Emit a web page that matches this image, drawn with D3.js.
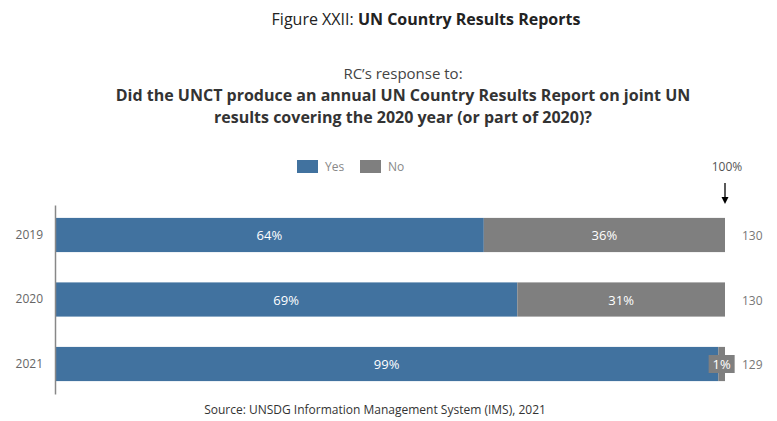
<!DOCTYPE html>
<html>
<head>
  <meta charset="utf-8">
  <title>UN Country Results Reports</title>
  <script src="https://d3js.org/d3.v7.min.js"></script>
  <style>
    html, body { margin: 0; padding: 0; overflow: hidden; background: #fff; font-family: "Open Sans", "DejaVu Sans", sans-serif; }
    svg { display: block; }
  </style>
</head>
<body>
  <div id="chart"></div>
  <script>
    // data
    const years = ["2019", "2020", "2021"];
    const yesPct = [64, 69, 99];
    const noPct = [36, 31, 1];
    const totals = [130, 130, 129];
    const seriesNames = ["Yes", "No"];
    const colors = ["#41729f", "#7f7f7f"];

    const width = 777, height = 421;
    const margin = { top: 205, right: 52, bottom: 27, left: 55 };
    const innerWidth = width - margin.left - margin.right;
    const innerHeight = height - margin.top - margin.bottom;

    const svg = d3.select("#chart").append("svg")
      .attr("width", width)
      .attr("height", height);

    // titles
    const title = svg.append("text")
      .attr("x", 426).attr("y", 25)
      .attr("text-anchor", "middle")
      .style("font-size", "16px").attr("fill", "#222");
    title.append("tspan").text("Figure XXII: ");
    title.append("tspan").attr("font-weight", "bold").text("UN Country Results Reports");

    svg.append("text")
      .attr("x", 403).attr("y", 79)
      .attr("text-anchor", "middle")
      .style("font-size", "15px").attr("fill", "#444")
      .text("RC\u2019s response to:");

    const qLines = [
      "Did the UNCT produce an annual UN Country Results Report on joint UN",
      "results covering the 2020 year (or part of 2020)?"
    ];
    svg.selectAll(".q").data(qLines).enter().append("text")
      .attr("x", 403).attr("y", (d, i) => 101 + i * 22)
      .attr("text-anchor", "middle")
      .style("font-size", "16px").attr("font-weight", "bold").attr("fill", "#333")
      .text(d => d);

    const g = svg.append("g").attr("transform", `translate(${margin.left},${margin.top})`);

    const x = d3.scaleLinear().domain([0, 100]).range([0, innerWidth]);
    const y = d3.scaleBand().domain(years).range([0, innerHeight])
      .paddingInner(0.47).paddingOuter(0.2);

    const rows = years.map((yr, i) => ({ year: yr, Yes: yesPct[i], No: noPct[i], total: totals[i] }));
    const stacked = d3.stack().keys(seriesNames)(rows);

    const layers = g.selectAll(".layer").data(stacked).enter().append("g")
      .attr("fill", (d, i) => colors[i]);

    layers.selectAll("rect").data(d => d).enter().append("rect")
      .attr("x", d => x(d[0]))
      .attr("y", d => y(d.data.year))
      .attr("width", d => x(d[1]) - x(d[0]))
      .attr("height", y.bandwidth());

    // value labels
    stacked.forEach((layer, li) => {
      layer.forEach(d => {
        const v = d[1] - d[0];
        const cx = x((d[0] + d[1]) / 2);
        const cy = y(d.data.year) + y.bandwidth() / 2;
        if (v < 5) {
          g.append("rect")
            .attr("x", cx - 13).attr("y", cy - 9)
            .attr("width", 26).attr("height", 18)
            .attr("fill", colors[li]);
        }
        g.append("text")
          .attr("x", cx)
          .attr("y", cy + 5)
          .attr("text-anchor", "middle")
          .style("font-size", "13px").attr("fill", "#fff")
          .text(v + "%");
      });
    });

    // y axis
    const yAxis = g.append("g").call(d3.axisLeft(y).tickSize(0).tickPadding(12));
    yAxis.select(".domain").attr("stroke", "#888").attr("stroke-width", 1.5);
    yAxis.selectAll("text").style("font-size", "12px").attr("fill", "#666")
      .style("font-family", "'Open Sans', 'DejaVu Sans', sans-serif");

    // totals on the right
    g.selectAll(".tot").data(rows).enter().append("text")
      .attr("x", innerWidth + 17)
      .attr("y", d => y(d.year) + y.bandwidth() / 2 + 5)
      .style("font-size", "12px").attr("fill", "#777")
      .text(d => d.total);

    // 100% marker
    g.append("text")
      .attr("x", x(100) + 2).attr("y", -34)
      .attr("text-anchor", "middle")
      .style("font-size", "12px").attr("fill", "#555")
      .text("100%");
    g.append("line")
      .attr("x1", x(100)).attr("x2", x(100))
      .attr("y1", -22).attr("y2", -3)
      .attr("stroke", "#000").attr("stroke-width", 1.3);
    g.append("path")
      .attr("d", `M${x(100) - 3.5},${-8} L${x(100) + 3.5},${-8} L${x(100)},${-1} Z`)
      .attr("fill", "#000");

    // legend
    const legend = svg.append("g").attr("transform", "translate(297,160)");
    const li = legend.selectAll("g").data(seriesNames).enter().append("g")
      .attr("transform", (d, i) => `translate(${i * 63},0)`);
    li.append("rect").attr("width", 21).attr("height", 13).attr("fill", (d, i) => colors[i]);
    li.append("text").attr("x", 28).attr("y", 11)
      .style("font-size", "12px").attr("fill", "#888").text(d => d);

    // source
    svg.append("text")
      .attr("x", 375).attr("y", 414)
      .attr("text-anchor", "middle")
      .style("font-size", "12px").attr("fill", "#333")
      .text("Source: UNSDG Information Management System (IMS), 2021");
  </script>
</body>
</html>
